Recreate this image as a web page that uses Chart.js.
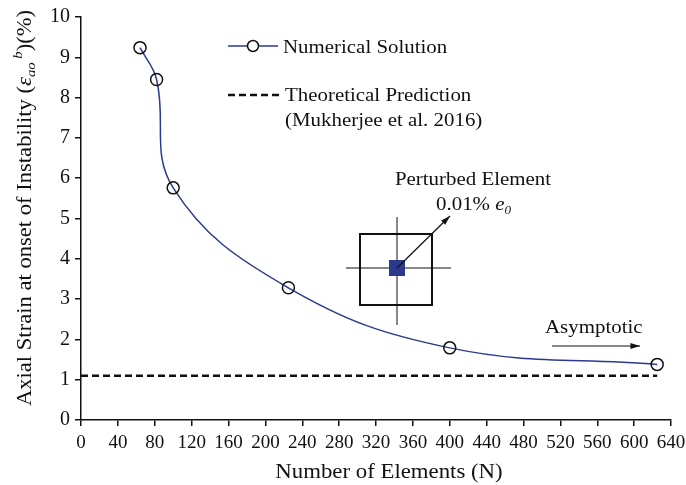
<!DOCTYPE html>
<html>
<head>
<meta charset="UTF-8">
<title>Axial strain vs number of elements</title>
<script src="https://cdn.jsdelivr.net/npm/chart.js"></script>
<style>
  body { margin: 0; background: #fff; }
  #wrap { width: 686px; height: 485px; }
</style>
</head>
<body>
<div id="wrap"><canvas id="chart" width="686" height="485"></canvas></div>
<script>
// data
const elements = [64, 82, 100, 225, 400, 625];
const strain = [9.24, 8.45, 5.76, 3.28, 1.79, 1.38];
const theoryX = [0, 625];
const theoryY = [1.1, 1.1];
const xTicks = [0, 40, 80, 120, 160, 200, 240, 280, 320, 360, 400, 440, 480, 520, 560, 600, 640];
const yTicks = [0, 1, 2, 3, 4, 5, 6, 7, 8, 9, 10];

const serif = '"Liberation Serif", "DejaVu Serif", serif';
const navy = '#2b3a8f';
const SX = 1.1; // the original's text is slightly wide

function arrow(ctx, x1, y1, x2, y2) {
  ctx.beginPath();
  ctx.moveTo(x1, y1);
  ctx.lineTo(x2, y2);
  ctx.stroke();
  const a = Math.atan2(y2 - y1, x2 - x1);
  ctx.beginPath();
  ctx.moveTo(x2, y2);
  ctx.lineTo(x2 - 10 * Math.cos(a - 0.3), y2 - 10 * Math.sin(a - 0.3));
  ctx.lineTo(x2 - 10 * Math.cos(a + 0.3), y2 - 10 * Math.sin(a + 0.3));
  ctx.closePath();
  ctx.fill();
}

// draws runs of text (with sub/superscripts) stretched by sx; align 'left' or 'center'
function rich(ctx, parts, x, y, align, sx) {
  let total = 0;
  parts.forEach(p => { ctx.font = p.f; p.w = ctx.measureText(p.t).width; total += p.w; });
  ctx.save();
  ctx.translate(x, y);
  ctx.scale(sx, 1);
  ctx.textAlign = 'left';
  let cx = align === 'center' ? -total / 2 : 0;
  parts.forEach(p => {
    ctx.font = p.f;
    ctx.fillText(p.t, cx, p.dy || 0);
    cx += p.w;
  });
  ctx.restore();
}

const extras = {
  id: 'extras',
  afterDraw(chart) {
    const ctx = chart.ctx;
    const f = '19px ' + serif;
    ctx.save();
    ctx.fillStyle = '#111';
    ctx.strokeStyle = '#111';
    ctx.textBaseline = 'alphabetic';

    // legend
    ctx.lineWidth = 1.5;
    ctx.strokeStyle = navy;
    ctx.beginPath(); ctx.moveTo(228, 46); ctx.lineTo(278, 46); ctx.stroke();
    ctx.strokeStyle = '#111';
    ctx.fillStyle = '#fff';
    ctx.beginPath(); ctx.arc(253, 46, 5.5, 0, Math.PI * 2); ctx.fill(); ctx.stroke();
    ctx.fillStyle = '#111';
    ctx.lineWidth = 2.5;
    ctx.setLineDash([7, 4]);
    ctx.beginPath(); ctx.moveTo(228, 95); ctx.lineTo(281, 95); ctx.stroke();
    ctx.setLineDash([]);
    rich(ctx, [{ t: 'Numerical Solution', f }], 283, 53, 'left', SX);
    rich(ctx, [{ t: 'Theoretical Prediction', f }], 285, 101, 'left', SX);
    rich(ctx, [{ t: '(Mukherjee et al. 2016)', f }], 285, 126, 'left', SX);

    // perturbed element sketch
    ctx.lineWidth = 2;
    ctx.strokeRect(360, 234, 72, 71);
    ctx.lineWidth = 1;
    ctx.beginPath();
    ctx.moveTo(397, 217); ctx.lineTo(397, 325);
    ctx.moveTo(346, 268); ctx.lineTo(451, 268);
    ctx.stroke();
    ctx.fillStyle = navy;
    ctx.fillRect(389, 260, 16, 16);
    ctx.fillStyle = '#111';
    ctx.lineWidth = 1.2;
    arrow(ctx, 397, 268, 450, 216);
    rich(ctx, [{ t: 'Perturbed Element', f }], 473, 185, 'center', SX);
    rich(ctx, [
      { t: '0.01% ', f },
      { t: 'e', f: 'italic 19px ' + serif },
      { t: '0', f: 'italic 12px ' + serif, dy: 4 }
    ], 436, 210, 'left', SX);

    // asymptotic note
    rich(ctx, [{ t: 'Asymptotic', f }], 545, 333, 'left', SX);
    ctx.lineWidth = 1;
    arrow(ctx, 552, 346, 640, 346);

    // axis titles
    rich(ctx, [{ t: 'Number of Elements (N)', f: '20px ' + serif }], 389, 478, 'center', 1.14);
    ctx.translate(31, 208);
    ctx.rotate(-Math.PI / 2);
    rich(ctx, [
      { t: 'Axial Strain at onset of Instability (', f: '20px ' + serif },
      { t: '\u03b5', f: 'italic 20px ' + serif },
      { t: 'ao', f: 'italic 13px ' + serif, dy: 4 },
      { t: ' b', f: 'italic 13px ' + serif, dy: -9 },
      { t: ')(%)', f: '20px ' + serif }
    ], 0, 0, 'center', 1.13);
    ctx.restore();
  }
};

new Chart(document.getElementById('chart'), {
  type: 'scatter',
  data: {
    datasets: [
      {
        label: 'Numerical Solution',
        data: elements.map((v, i) => ({ x: v, y: strain[i] })),
        showLine: true,
        borderColor: navy,
        borderWidth: 1.5,
        tension: 0.4,
        pointRadius: 6,
        pointBorderWidth: 1.5,
        pointBorderColor: '#111',
        pointBackgroundColor: 'rgba(255,255,255,0)',
        order: 1
      },
      {
        label: 'Theoretical Prediction',
        data: theoryX.map((v, i) => ({ x: v, y: theoryY[i] })),
        showLine: true,
        borderColor: '#111',
        borderWidth: 2.5,
        borderDash: [7, 4],
        pointRadius: 0,
        order: 2
      }
    ]
  },
  options: {
    responsive: false,
    animation: false,
    layout: { padding: { top: 15, right: 15, left: 0, bottom: 0 } },
    plugins: { legend: { display: false }, tooltip: { enabled: false } },
    scales: {
      x: {
        type: 'linear',
        min: 0, max: 640,
        afterBuildTicks: s => { s.ticks = xTicks.map(v => ({ value: v })); },
        afterFit: s => { s.height = 65; s.paddingRight = 0; },
        grid: { drawOnChartArea: false, tickLength: 6, color: '#111', lineWidth: 1.5 },
        border: { color: '#111', width: 1.5 },
        ticks: { color: '#111', font: { family: serif, size: 19 }, padding: 6, maxRotation: 0, autoSkip: false }
      },
      y: {
        min: 0, max: 10,
        afterBuildTicks: s => { s.ticks = yTicks.map(v => ({ value: v })); },
        afterFit: s => { s.width = 81; },
        grid: { drawOnChartArea: false, tickLength: 6, color: '#111', lineWidth: 1.5 },
        border: { color: '#111', width: 1.5 },
        ticks: { color: '#111', font: { family: serif, size: 20 }, padding: 5 }
      }
    }
  },
  plugins: [extras]
});
</script>
</body>
</html>
